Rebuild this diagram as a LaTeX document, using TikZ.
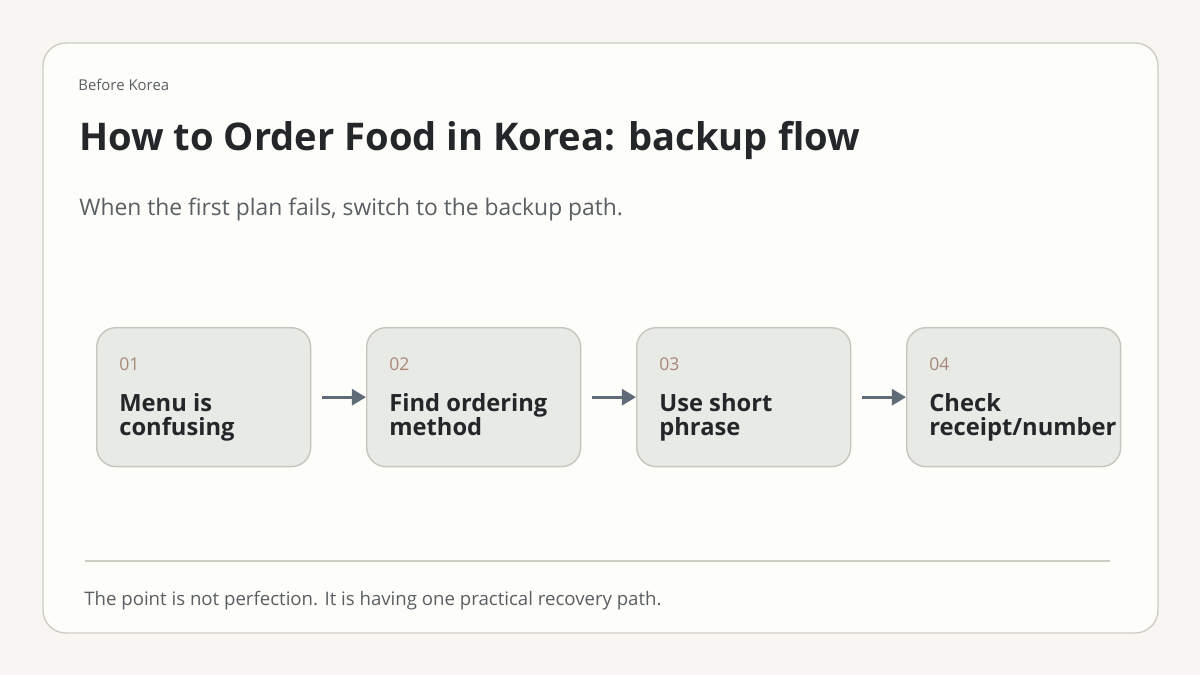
\documentclass[tikz,border=0pt]{standalone}
\usepackage{fontspec}
\setmainfont{Open Sans}
\usetikzlibrary{arrows.meta,positioning}
\definecolor{pagebg}{HTML}{F7F6F2}
\definecolor{cardbg}{HTML}{FDFDFA}
\definecolor{cardline}{HTML}{CFCCC4}
\definecolor{stepbg}{HTML}{E8EAE6}
\definecolor{stepline}{HTML}{C6C5BE}
\definecolor{numcol}{HTML}{A8877A}
\definecolor{ink}{HTML}{23272A}
\definecolor{greyink}{HTML}{5A5F63}
\definecolor{arrowcol}{HTML}{5F6B77}
\tikzset{
  stepbox/.style={draw=stepline,fill=stepbg,rounded corners=11pt,minimum width=4.28cm,minimum height=2.78cm,line width=0.8pt},
  num/.style={anchor=west,inner sep=0pt,text=numcol,font=\fontsize{10}{12}\selectfont},
  lbl/.style={anchor=north west,inner sep=0pt,text=ink,align=left,font=\fontsize{13.5}{14}\selectfont\bfseries},
  flow/.style={-{Triangle[length=8pt,width=9pt]},draw=arrowcol,line width=1.8pt}
}
\begin{document}
\begin{tikzpicture}[x=0.02cm,y=-0.02cm,every node/.append style={inner sep=0pt}]
\useasboundingbox[fill=pagebg] (0,0) rectangle (1200,675);
\draw[fill=cardbg,draw=cardline,line width=0.8pt,rounded corners=13pt] (43,43) rectangle (1158,633);
\node[anchor=west,text=greyink,font=\fontsize{8.5}{10}\selectfont] (kicker) at (78,85) {Before Korea};
\node[anchor=west,text=ink,font=\fontsize{21.7}{26}\selectfont\bfseries] (title) at (79,140) {How to Order Food in Korea: backup flow};
\node[anchor=west,text=greyink,font=\fontsize{13}{15}\selectfont] (sub) at (79,210) {When the first plan fails, switch to the backup path.};
% steps
\foreach \i/\x/\t in {1/96/{Menu is\\confusing},2/366/{Find ordering\\method},3/636/{Use short\\phrase},4/906/{Check\\receipt/number}}{
  \node[stepbox,anchor=north west] (s\i) at (\x,327) {};
  \node[num] (n\i) at (\x+23,364) {0\i};
  \node[lbl] (l\i) at (\x+23,393) {\t};
}
\foreach \a/\b in {1/2,2/3,3/4}
  \draw[flow] ([xshift=0.22cm]s\a.east) -- (s\b.west);
\coordinate (rl) at (85,561);
\coordinate (rr) at (1110,561);
\draw[cardline,line width=0.9pt] (rl) -- (rr);
\node[anchor=west,text=greyink,font=\fontsize{10.6}{12}\selectfont] (foot) at (84,601) {The point is not perfection. It is having one practical recovery path.};
\end{tikzpicture}
\end{document}
